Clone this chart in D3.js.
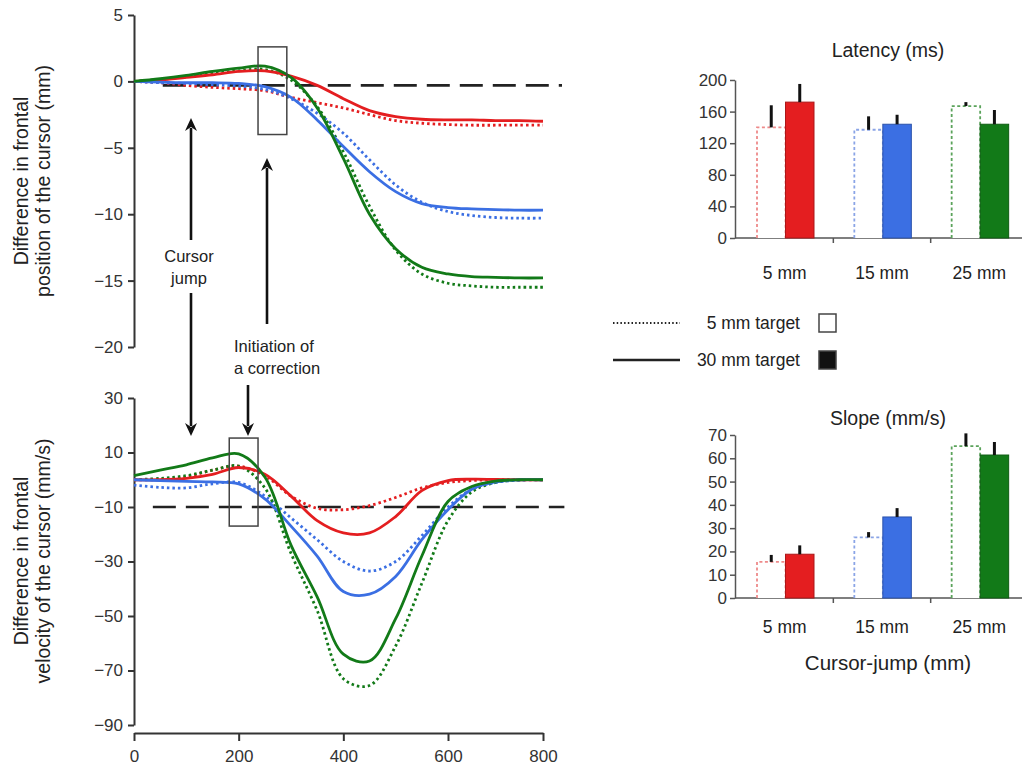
<!DOCTYPE html>
<meta charset="utf-8">
<script src="https://d3js.org/d3.v7.min.js"></script>
<style>
  body { margin: 0; background: #fff; }
  svg { font-family: "Liberation Sans", Arial, sans-serif; }
  .axis path, .axis line { stroke: #333; stroke-width: 2; }
  .axis text { font-size: 17px; fill: #333; font-family: "Liberation Sans", Arial, sans-serif; }
  .baraxis path, .baraxis line { stroke: #555; stroke-width: 1.5; }
</style>
<body>
<div id="figure"></div>
<script>

// sample times (ms) of the averaged traces
var times = [0, 50, 100, 150, 200, 250, 300, 350, 400, 450, 500, 550, 600, 650, 700, 750, 800];

// difference in frontal position (mm)
var posRedSolid    = [0, 0.1, 0.3, 0.5, 0.75, 0.8, 0.4, -0.3, -1.3, -2.2, -2.65, -2.85, -2.9, -2.9, -2.95, -2.95, -3.0];
var posRedDotted   = [0, -0.1, -0.3, -0.45, -0.55, -0.7, -1.2, -1.6, -2.0, -2.5, -2.95, -3.15, -3.25, -3.3, -3.3, -3.3, -3.3];
var posBlueSolid   = [0, -0.05, -0.1, -0.1, -0.15, -0.4, -1.2, -2.9, -4.9, -6.8, -8.3, -9.2, -9.5, -9.6, -9.65, -9.7, -9.7];
var posBlueDotted  = [0, -0.1, -0.15, -0.25, -0.35, -0.6, -1.3, -2.4, -3.9, -5.9, -7.8, -9.1, -9.8, -10.1, -10.25, -10.3, -10.3];
var posGreenSolid  = [0, 0.2, 0.45, 0.75, 1.0, 1.15, 0.3, -2.0, -5.8, -10.0, -12.6, -14.0, -14.5, -14.7, -14.75, -14.8, -14.8];
var posGreenDotted = [0, 0.15, 0.35, 0.6, 0.8, 0.9, 0.1, -1.9, -5.3, -9.4, -12.7, -14.5, -15.2, -15.4, -15.5, -15.5, -15.5];

// difference in frontal velocity (mm/s)
var velRedSolid    = [0, 0, 0.5, 2, 4.5, 2, -6, -15, -19.5, -19.5, -13.5, -4, -0.3, 0.2, 0.1, 0, 0];
var velRedDotted   = [0, 0, 1, 3.5, 5, 1.5, -6, -10.5, -11, -9.5, -6.5, -3, -1, -0.3, 0, 0, 0];
var velBlueSolid   = [0, -0.3, -0.6, -0.8, -1.5, -7, -17, -28, -41, -42, -35.5, -22, -11, -3.5, -0.8, 0, 0];
var velBlueDotted  = [-2, -2.8, -3, -1.5, -1, -6, -14, -22, -30, -33.5, -30, -20.5, -10, -3.5, -1, -0.2, 0];
var velGreenSolid  = [1.5, 3.5, 5.5, 8, 9.5, 1, -24, -43, -64, -66.5, -51, -28, -8, -2.5, -0.5, 0, 0];
var velGreenDotted = [0, 0.5, 1.5, 3.5, 5, -3, -27, -48, -73, -75.5, -61, -38, -15, -4.5, -1, 0, 0];

// baseline (dashed) and highlighted windows, in data units
var posBaseline = {from: 55, to: 840, value: -0.3};
var velBaseline = {from: 36, to: 845, value: -10};
var posWindow = {t0: 237, t1: 292, top: 2.6, bottom: -4.0};
var velWindow = {t0: 182, t1: 237, top: 15.3, bottom: -17};

// bar charts
var jumps = ["5 mm", "15 mm", "25 mm"];
var targets = ["5 mm target", "30 mm target"];
var latency5    = [140, 137, 167];
var latency5Err = [28, 17, 5];
var latency30    = [172, 144, 144];
var latency30Err = [23, 12, 18];
var slope5    = [15.5, 26, 65.2];
var slope5Err = [3, 2.3, 5.5];
var slope30    = [18.8, 34.8, 61.4];
var slope30Err = [3.8, 3.8, 5.6];

var latencyTicks = [0, 40, 80, 120, 160, 200];
var slopeTicks = [0, 10, 20, 30, 40, 50, 60, 70];

var colors = {red: "#e41e20", blue: "#3b6fe3", green: "#127a18"};
var lightColors = {red: "#ee8a8a", blue: "#8aa4e6", green: "#5ba35b"};
var jumpColors = ["red", "blue", "green"];

var svg = d3.select("#figure").append("svg")
    .attr("width", 1031).attr("height", 774);

// ---------- left panels ----------
var x = d3.scaleLinear().domain([0, 600, 800]).range([134, 448, 543]);
var yPos = d3.scaleLinear().domain([5, -20]).range([15, 347]);
var yVel = d3.scaleLinear().domain([30, -90]).range([398, 725]);

svg.append("g").attr("class", "axis")
    .attr("transform", "translate(134,0)")
    .call(d3.axisLeft(yPos).tickValues([5, 0, -5, -10, -15, -20]).tickSize(6).tickSizeOuter(0).tickPadding(5));

svg.append("g").attr("class", "axis")
    .attr("transform", "translate(134,0)")
    .call(d3.axisLeft(yVel).tickValues([30, 10, -10, -30, -50, -70, -90]).tickSize(6).tickSizeOuter(0).tickPadding(5));

svg.append("g").attr("class", "axis")
    .attr("transform", "translate(0,733)")
    .call(d3.axisBottom(x).tickValues([0, 200, 400, 600, 800]).tickSize(8).tickSizeOuter(0).tickPadding(9));

// y labels
function yLabel(lines, cy) {
  var t = svg.append("text")
    .attr("transform", "translate(0," + cy + ") rotate(-90)")
    .attr("text-anchor", "middle")
    .style("font-size", "19.5px").style("fill", "#222");
  lines.forEach(function(s, i) {
    t.append("tspan").attr("x", 0).attr("y", 28 + i * 22).text(s);
  });
}
yLabel(["Difference in frontal", "position of the cursor (mm)"], 181);
yLabel(["Difference in frontal", "velocity of the cursor (mm/s)"], 561);

function drawTraces(yScale, series) {
  var line = d3.line()
    .x(function(d, i) { return x(times[i]); })
    .y(function(d) { return yScale(d); })
    .curve(d3.curveCatmullRom.alpha(0.5));
  series.forEach(function(s) {
    svg.append("path")
      .datum(s.values)
      .attr("fill", "none")
      .attr("stroke", colors[s.color])
      .attr("stroke-width", s.dotted ? 2.8 : 2.8)
      .attr("stroke-dasharray", s.dotted ? "2.5,3" : null)
      .attr("d", line);
  });
}

function baseline(yScale, b) {
  svg.append("line")
    .attr("x1", x(b.from)).attr("x2", x(b.to))
    .attr("y1", yScale(b.value)).attr("y2", yScale(b.value))
    .attr("stroke", "#222").attr("stroke-width", 2.6)
    .attr("stroke-dasharray", "23,10");
}

function windowBox(yScale, w) {
  svg.append("rect")
    .attr("x", x(w.t0)).attr("y", yScale(w.top))
    .attr("width", x(w.t1) - x(w.t0))
    .attr("height", yScale(w.bottom) - yScale(w.top))
    .attr("fill", "none").attr("stroke", "#444").attr("stroke-width", 1.5);
}

baseline(yPos, posBaseline);
drawTraces(yPos, [
  {values: posRedDotted, color: "red", dotted: true},
  {values: posBlueDotted, color: "blue", dotted: true},
  {values: posGreenDotted, color: "green", dotted: true},
  {values: posRedSolid, color: "red"},
  {values: posBlueSolid, color: "blue"},
  {values: posGreenSolid, color: "green"}
]);
windowBox(yPos, posWindow);

baseline(yVel, velBaseline);
drawTraces(yVel, [
  {values: velRedDotted, color: "red", dotted: true},
  {values: velBlueDotted, color: "blue", dotted: true},
  {values: velGreenDotted, color: "green", dotted: true},
  {values: velRedSolid, color: "red"},
  {values: velBlueSolid, color: "blue"},
  {values: velGreenSolid, color: "green"}
]);
windowBox(yVel, velWindow);

// annotation arrows
function arrow(ax, y1, y2) {
  var dir = y2 > y1 ? 1 : -1;
  svg.append("line")
    .attr("x1", ax).attr("x2", ax)
    .attr("y1", y1).attr("y2", y2 - dir * 10)
    .attr("stroke", "#111").attr("stroke-width", 2.6);
  svg.append("path")
    .attr("d", "M" + (ax - 6) + "," + (y2 - dir * 13) + "L" + ax + "," + y2 + "L" + (ax + 6) + "," + (y2 - dir * 13) + "L" + ax + "," + (y2 - dir * 9) + "Z")
    .attr("fill", "#111");
}
arrow(191, 240, 118);
arrow(191, 293, 436);
arrow(267, 324, 158);
arrow(248, 385, 436);

function note(lines, tx, ty, anchor) {
  var t = svg.append("text").attr("text-anchor", anchor)
    .style("font-size", "16.5px").style("fill", "#222");
  lines.forEach(function(s, i) {
    t.append("tspan").attr("x", tx).attr("y", ty + i * 22).text(s);
  });
}
note(["Cursor", "jump"], 189, 262, "middle");
note(["Initiation of", "a correction"], 234, 352, "start");

// ---------- bar charts ----------
var xJump = d3.scaleBand().domain(jumps).range([736, 1028]);
var xTarget = d3.scaleBand().domain(targets).range([21, 78]);

function barChart(opts) {
  var y = d3.scaleLinear().domain(opts.domain).range(opts.range);
  var g = svg.append("g");

  g.append("g").attr("class", "axis baraxis")
    .attr("transform", "translate(735,0)")
    .call(d3.axisLeft(y).tickValues(opts.ticks).tickSize(5).tickSizeOuter(0).tickPadding(3));

  var base = g.append("g").attr("class", "axis baraxis")
    .attr("transform", "translate(0," + y(0) + ")");
  base.append("line").attr("x1", 735).attr("x2", 1022).attr("y1", 0).attr("y2", 0);
  jumps.slice(0, 2).forEach(function(j) {
    base.append("line")
      .attr("x1", xJump(j) + xJump.bandwidth()).attr("x2", xJump(j) + xJump.bandwidth())
      .attr("y1", 0).attr("y2", 5);
  });

  jumps.forEach(function(j, i) {
    var c = jumpColors[i];
    var x0 = xJump(j) + xTarget("5 mm target");
    var x1 = xJump(j) + xTarget("30 mm target");
    var w = xTarget.bandwidth();
    // open bar (5 mm target): dashed outline
    g.append("path")
      .attr("d", "M" + x0 + "," + y(0) + "V" + y(opts.v5[i]) + "H" + (x0 + w) + "V" + y(0))
      .attr("fill", "#fff").attr("stroke", lightColors[c])
      .attr("stroke-width", 1.8).attr("stroke-dasharray", "3,2.5");
    // filled bar (30 mm target)
    g.append("rect")
      .attr("x", x1).attr("y", y(opts.v30[i]))
      .attr("width", w).attr("height", y(0) - y(opts.v30[i]))
      .attr("fill", colors[c]).attr("stroke", d3.color(colors[c]).darker(0.8)).attr("stroke-width", 1);
    // error bars
    [[x0, opts.v5[i], opts.e5[i]], [x1, opts.v30[i], opts.e30[i]]].forEach(function(b) {
      g.append("line")
        .attr("x1", b[0] + w / 2).attr("x2", b[0] + w / 2)
        .attr("y1", y(b[1])).attr("y2", y(b[1] + b[2]))
        .attr("stroke", "#111").attr("stroke-width", 3);
    });
    g.append("text")
      .attr("x", xJump(j) + xJump.bandwidth() / 2)
      .attr("y", y(0) + opts.labelGap)
      .attr("text-anchor", "middle")
      .style("font-size", "17.5px").style("fill", "#222")
      .text(j);
  });

  g.append("text")
    .attr("x", 888).attr("y", opts.titleY)
    .attr("text-anchor", "middle")
    .style("font-size", "19.5px").style("fill", "#222")
    .text(opts.title);
}

barChart({title: "Latency (ms)", titleY: 57, domain: [0, 200], range: [238, 80], ticks: latencyTicks,
  v5: latency5, e5: latency5Err, v30: latency30, e30: latency30Err, labelGap: 41});
barChart({title: "Slope (mm/s)", titleY: 425, domain: [0, 70], range: [598, 435], ticks: slopeTicks,
  v5: slope5, e5: slope5Err, v30: slope30, e30: slope30Err, labelGap: 35});

svg.append("text")
  .attr("x", 888).attr("y", 670)
  .attr("text-anchor", "middle")
  .style("font-size", "20.5px").style("fill", "#222")
  .text("Cursor-jump (mm)");

// ---------- legend ----------
var legend = svg.append("g");
targets.forEach(function(t, i) {
  var ly = 323 + i * 37;
  legend.append("line")
    .attr("x1", 613).attr("x2", 680).attr("y1", ly).attr("y2", ly)
    .attr("stroke", "#222").attr("stroke-width", i === 0 ? 2 : 2.4)
    .attr("stroke-dasharray", i === 0 ? "1.5,2.2" : null);
  legend.append("text")
    .attr("x", 800).attr("y", ly + 6)
    .attr("text-anchor", "end")
    .style("font-size", "17.5px").style("fill", "#222")
    .text(t);
  legend.append("rect")
    .attr("x", 819).attr("y", ly - 9).attr("width", 17).attr("height", 18)
    .attr("fill", i === 0 ? "#fff" : "#111")
    .attr("stroke", "#444").attr("stroke-width", 1.5);
});

</script>
</body>
</html>
